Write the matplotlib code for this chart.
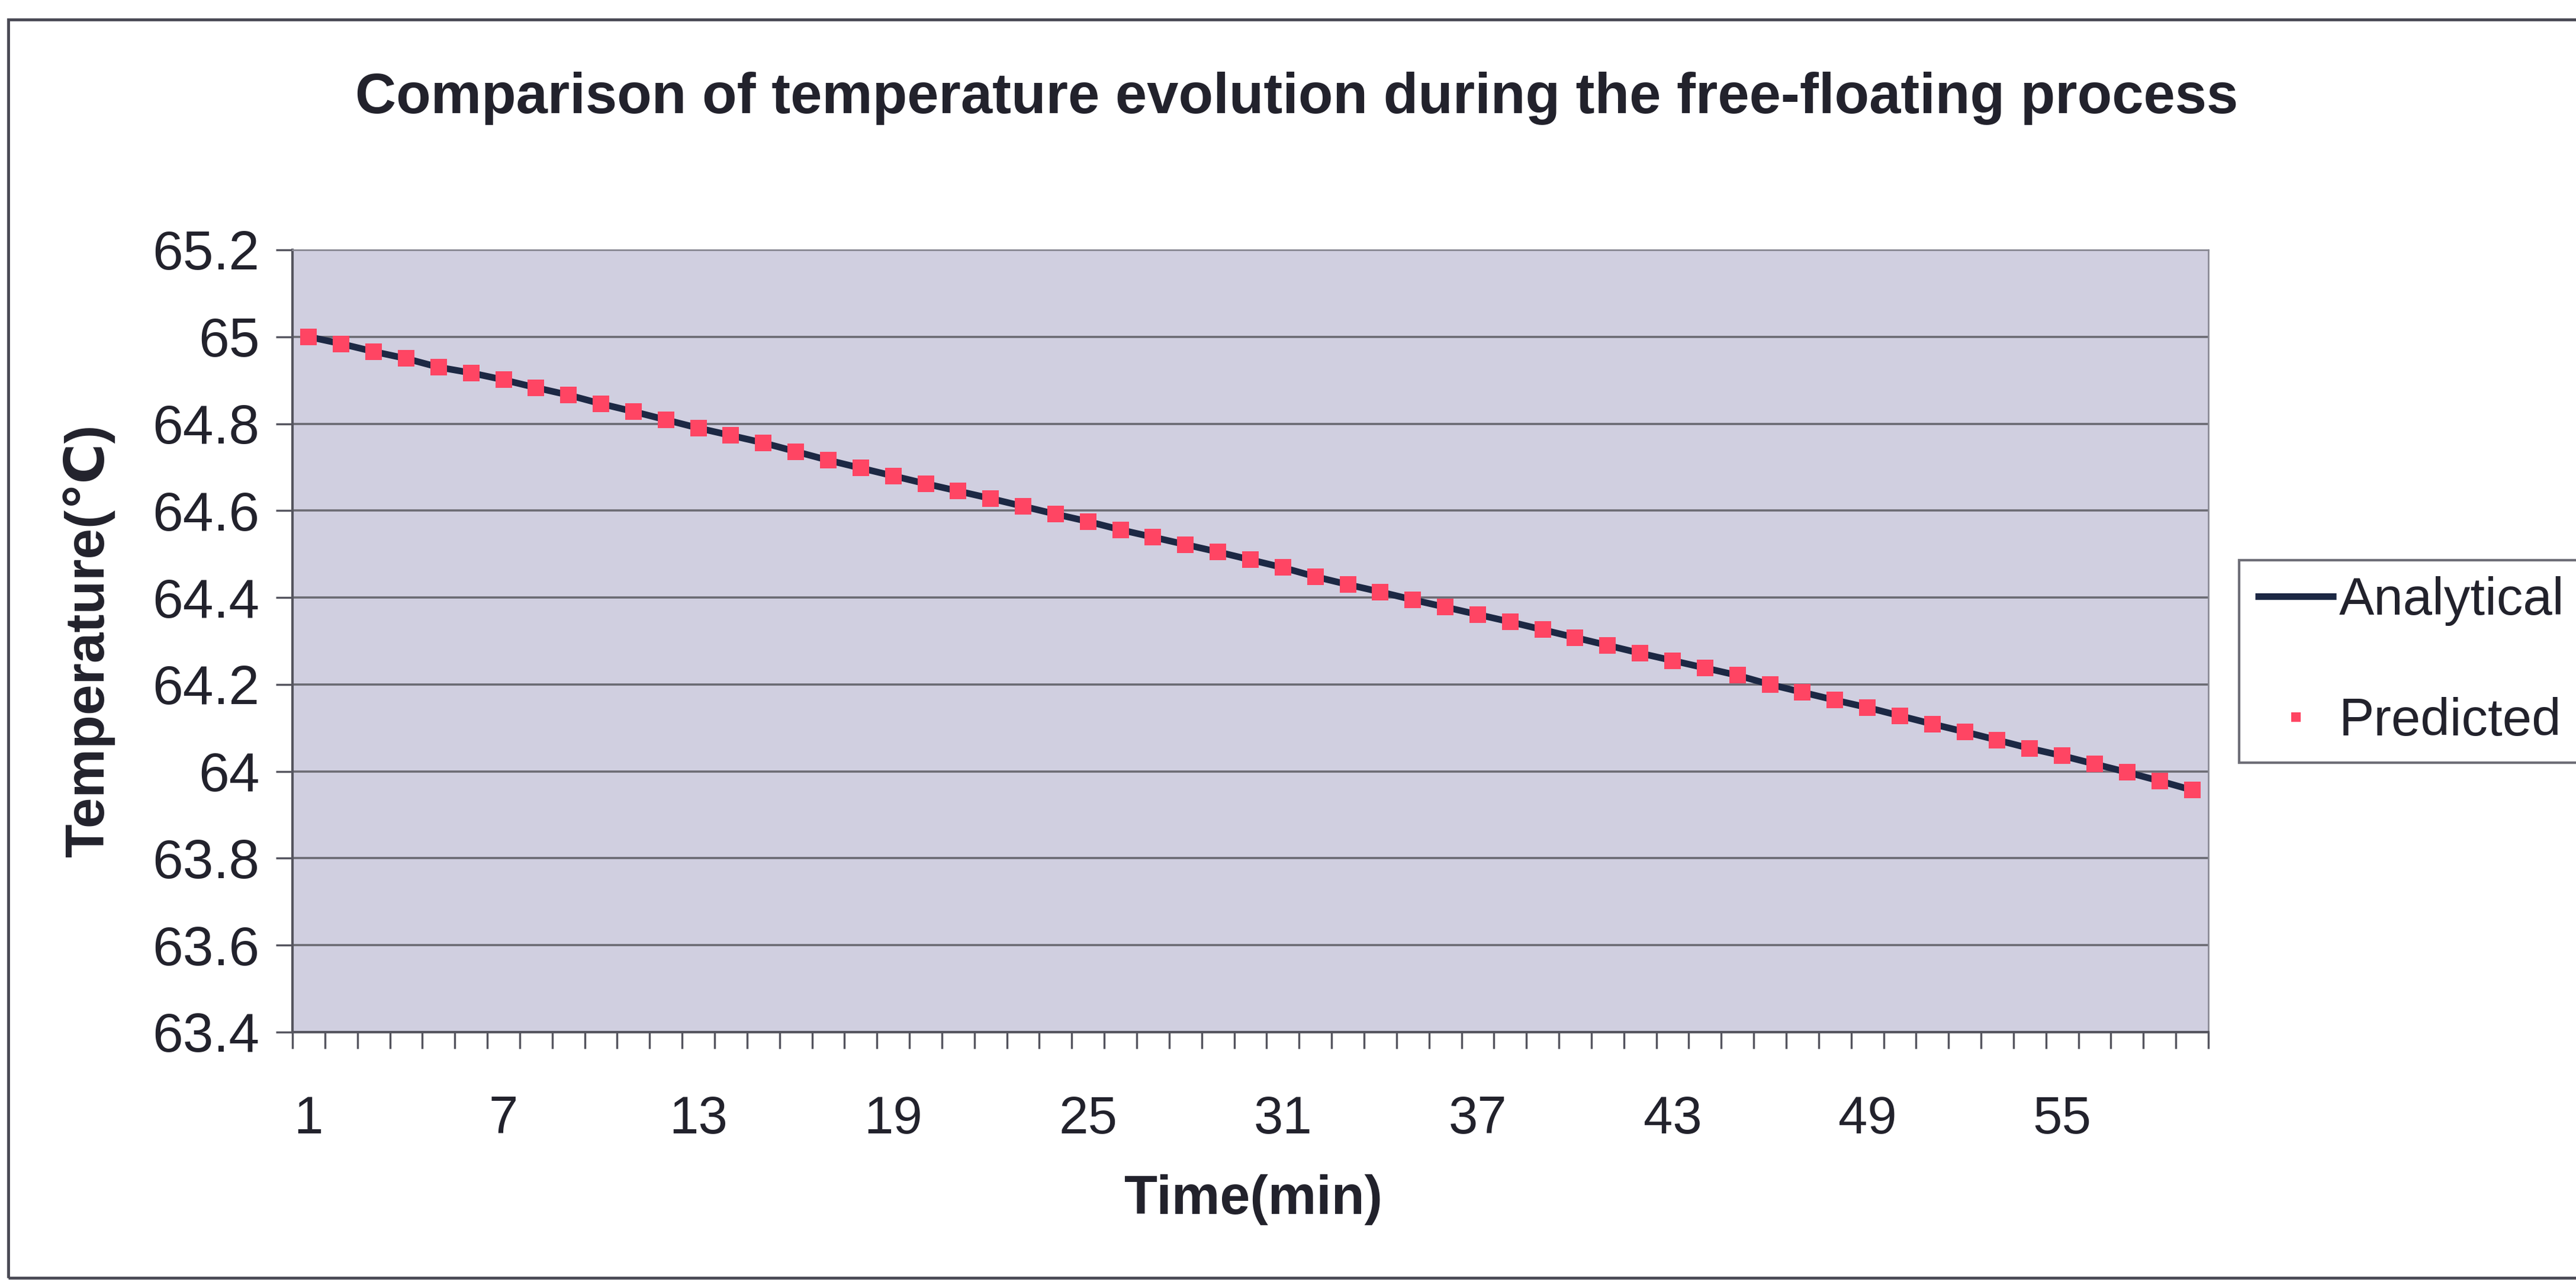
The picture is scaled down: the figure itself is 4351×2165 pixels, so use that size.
import numpy as np
import matplotlib
matplotlib.use('Agg')
import matplotlib.pyplot as plt
from matplotlib.patches import Rectangle
from matplotlib.ticker import FixedLocator, NullFormatter

plt.rcParams['font.family'] = ['Liberation Sans', 'DejaVu Sans']

# minutes 1..59 of the free-floating run
time_min = list(range(1, 60))

analytical = [65.000, 64.984, 64.966, 64.950, 64.930, 64.917, 64.901, 64.883, 64.866, 64.846,
              64.828, 64.809, 64.790, 64.773, 64.756, 64.736, 64.716, 64.698, 64.680, 64.662,
              64.645, 64.628, 64.610, 64.592, 64.575, 64.556, 64.539, 64.522, 64.505, 64.487,
              64.469, 64.448, 64.430, 64.413, 64.395, 64.378, 64.361, 64.344, 64.326, 64.308,
              64.290, 64.272, 64.255, 64.238, 64.221, 64.200, 64.182, 64.164, 64.147, 64.128,
              64.109, 64.091, 64.072, 64.053, 64.036, 64.017, 63.998, 63.978, 63.957]

predicted = [65.000, 64.984, 64.966, 64.950, 64.930, 64.917, 64.901, 64.883, 64.866, 64.846,
             64.828, 64.809, 64.790, 64.773, 64.756, 64.736, 64.716, 64.698, 64.680, 64.662,
             64.645, 64.628, 64.610, 64.592, 64.575, 64.556, 64.539, 64.522, 64.505, 64.487,
             64.469, 64.448, 64.430, 64.413, 64.395, 64.378, 64.361, 64.344, 64.326, 64.308,
             64.290, 64.272, 64.255, 64.238, 64.221, 64.200, 64.182, 64.164, 64.147, 64.128,
             64.109, 64.091, 64.072, 64.053, 64.036, 64.017, 63.998, 63.978, 63.957]

y_ticks = [63.4, 63.6, 63.8, 64.0, 64.2, 64.4, 64.6, 64.8, 65.0, 65.2]
y_tick_labels = ['63.4', '63.6', '63.8', '64', '64.2', '64.4', '64.6', '64.8', '65', '65.2']
x_tick_labels = [1, 7, 13, 19, 25, 31, 37, 43, 49, 55]

fontSize = 64
textColor = '#22222c'
axisColor = '#55555f'
plotBg = '#d0cfe0'
lineColor = '#1c2844'
markerColor = '#ff4563'

fig = plt.figure(figsize=(43.51, 21.65), dpi=100)
fig.patch.set_facecolor('white')

# frame around the whole chart
fig.patches.append(Rectangle((14/4351, 7/2165), 1.2, 1 - 40/2165, transform=fig.transFigure,
                             fill=False, edgecolor='#4a4a55', linewidth=3.5))

ax = fig.add_axes([494/4351, 1 - 1743/2165, (3730-494)/4351, (1743-422)/2165])
ax.set_facecolor(plotBg)

ax.plot(time_min, analytical, '-', color=lineColor, linewidth=8, label='Analytical',
        solid_capstyle='butt', zorder=3)
ax.plot(time_min, predicted, 's', color=markerColor, markersize=20, markeredgewidth=0,
        label='Predicted', zorder=4)

ax.set_xlim(0.5, 59.5)
ax.set_ylim(63.4, 65.2)

ax.set_yticks(y_ticks)
ax.set_yticklabels(y_tick_labels)
ax.yaxis.grid(True, color='#6a6a72', linewidth=2.6)
ax.set_axisbelow(True)

ax.set_xticks(x_tick_labels)
ax.set_xticklabels([str(v) for v in x_tick_labels])
ax.xaxis.set_minor_locator(FixedLocator(np.arange(0.5, 60, 1)))
ax.xaxis.set_minor_formatter(NullFormatter())

ax.tick_params(axis='x', which='major', length=0, pad=76, labelsize=fontSize, labelcolor=textColor)
ax.tick_params(axis='x', which='minor', length=20, width=2.5, color=axisColor, direction='out')
ax.tick_params(axis='y', which='major', length=20, width=2.5, color=axisColor, pad=20,
               labelsize=67, labelcolor=textColor)

for side in ['left', 'bottom']:
    ax.spines[side].set_color(axisColor)
    ax.spines[side].set_linewidth(3)
ax.spines['top'].set_color('#8a8a95')
ax.spines['top'].set_linewidth(2)
ax.spines['right'].set_color('#8a8a95')
ax.spines['right'].set_linewidth(2)

fig.text(2190/4351, 1 - 166/2165, 'Comparison of temperature evolution during the free-floating process',
         ha='center', va='center', fontsize=69, fontweight='bold', color=textColor)
fig.text(2117/4351, 1 - 2026/2165, 'Time(min)', ha='center', va='center',
         fontsize=66, fontweight='bold', color=textColor)
fig.text(150/4351, 1 - 1082/2165, 'Temperature(\u2103)', ha='center', va='center', rotation=90,
         fontsize=67, fontweight='bold', color=textColor)

leg = ax.legend(loc='center left', bbox_to_anchor=(3782/4351, 1 - 1117/2165),
                bbox_transform=fig.transFigure, fontsize=64, frameon=True,
                fancybox=False, handlelength=1.55, handletextpad=0.05, labelspacing=1.35,
                borderpad=0.3, borderaxespad=0, markerscale=0.6)
leg.get_frame().set_edgecolor('#4a4a55')
leg.get_frame().set_linewidth(3)
for t in leg.get_texts():
    t.set_color(textColor)

fig.savefig('out.png', dpi=100, facecolor='white')
